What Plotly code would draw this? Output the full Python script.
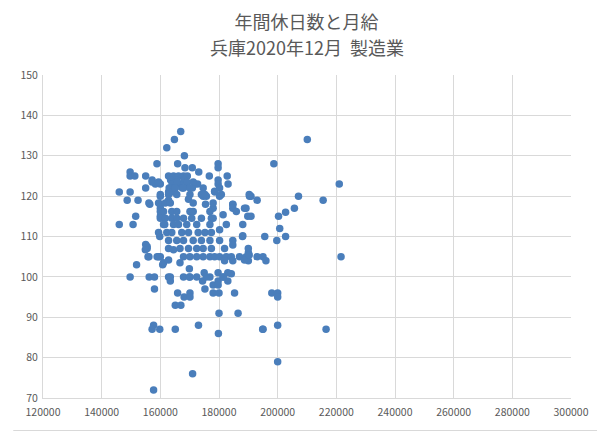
import plotly.graph_objects as go

# 月給 (円) と 年間休日数
monthly_pay = [
    # right side / outliers
    210100, 198700, 221000, 190900, 193000, 207100, 215500, 189200, 205700, 202700,
    189800, 190900, 200300, 200700, 188000, 195600, 202700, 199700, 190000, 190000,
    189300, 190000, 193000, 195000, 196000, 221600, 198000, 200000, 200000, 195000,
    200000, 216500, 200000,
    # left side
    162200, 158850, 149700, 149700, 151300, 155000, 157200, 158300, 160000, 146000,
    149700, 155000, 148700, 152400, 156400, 160000, 160000, 162800, 162800,
    151600, 150700, 146000, 160000, 160000, 161500, 159800, 155000, 155500, 155800,
    158900, 160000, 151900, 160800, 149700, 156200, 158000, 162800, 158000,
    # bottom
    163400, 165900, 167900, 169900, 172400, 169900, 168100, 170100, 170100, 165100,
    167000, 174950, 174400, 175200, 176900, 179700, 179700, 181400, 183000, 183000,
    178000, 179700, 178000, 180000, 185300, 180000, 186500, 157700, 157200, 159800,
    165100, 173000, 179800, 194900, 171000, 157700,
    # top
    166950, 164800, 168200, 165900, 168400, 170900, 173100, 179700, 179700, 176700,
    182800, 179700, 179700, 183100, 171800, 172700, 170900, 174600, 175700, 178600,
    180200, 184700, 188700, 190400, 175400, 178000,
    # dense upper cluster
    162800, 164500, 166200, 167900, 169200, 163500, 165500, 168000, 164000, 166500,
    169000, 163000, 165000, 167500, 164000,
    157200, 159400, 165600, 169000, 171200,
    165100, 167900, 170100, 174600, 180200,
    160000, 162800, 165600, 170100, 174000, 175200, 178500, 180800,
    156100, 159400, 161700, 163400, 169600, 171200, 178000, 184700, 190300,
    160000, 161100, 163900, 165600, 170100, 171200, 176900, 181400, 184700, 185900,
    # middle band
    160000, 161700, 163900, 165600, 167900, 170700, 174000, 177400, 178000,
    161100, 164500, 166200, 169000, 172400, 176900, 182500, 188100,
    159400, 162200, 163900, 167300, 169600, 172900, 175200, 177400, 180200,
    155500, 162800, 165600, 167900, 171200, 174000, 176900, 180200, 184700, 188100,
    154900, 162800, 164500, 166700, 169600, 172400, 174600, 177400, 181900, 184700,
    156100, 159400, 167900, 170100, 172400, 174600, 176900, 178500, 180200, 182500,
    184200, 187000, 188700, 190300,
    161100, 162800, 166700, 181900, 184700,
    163400, 170100, 175700, 181400, 184200,
]

annual_holidays = [
    # right side / outliers
    134, 128, 123, 120, 119, 120, 119, 117, 117, 116,
    115, 115, 115, 112, 110, 110, 110, 109, 107, 106,
    105, 104, 105, 105, 104, 105, 96, 96, 95, 87,
    88, 87, 79,
    # left side
    132, 128, 126, 125, 125, 125, 124, 123, 123, 121,
    121, 122, 119, 119, 118, 120, 118, 121, 119,
    115, 113, 113, 115, 117, 113, 110, 108, 107, 105,
    105, 105, 103, 103, 100, 100, 100, 100, 97,
    # bottom
    99, 96, 100, 100, 100, 102, 95, 96, 95, 93,
    93, 101, 99, 97, 100, 101, 99, 100, 101, 99,
    98, 98, 96, 96, 96, 91, 91, 88, 87, 87,
    87, 88, 86, 87, 76, 72,
    # top
    136, 134, 130, 128, 127, 127, 126, 128, 127, 125,
    125, 124, 123, 123, 123, 123, 122, 120, 120, 121,
    120, 118, 117, 120, 118, 117,
    # dense upper cluster
    125, 125, 125, 125, 125, 124, 124, 124, 123, 123,
    123, 122, 122, 122, 121,
    123.5, 123.5, 123.5, 123.5, 123.5,
    122, 122, 122, 122, 122,
    120.4, 120.4, 120.4, 120.4, 120.4, 120.4, 121.2, 120.4,
    118.3, 118.3, 118.3, 118.3, 119.2, 118.3, 118.3, 117.9, 120.4,
    116.2, 116.2, 116.2, 116.2, 116.2, 116.2, 116.2, 115.4, 117, 116.2,
    # middle band
    114.5, 114.5, 114.5, 114.5, 114.5, 114.5, 114.5, 114.5, 114.5,
    113, 113, 113, 113, 113, 113, 113, 113,
    111, 111, 111, 111, 111, 111, 111, 111, 111.7,
    107.5, 109, 109, 109, 109, 109, 109, 109, 109, 110.2,
    106.7, 107, 106.7, 107, 107, 107, 107, 107, 107, 107.9,
    105, 105, 105, 105, 105, 105, 105, 105, 105, 105,
    105, 105, 104.2, 105.4,
    103.5, 104.2, 103.5, 104, 104,
    100, 100, 100, 100, 100.8,
]

x_ticks = list(range(120000, 300001, 20000))
y_ticks = list(range(70, 151, 10))

title_line1 = "年間休日数と月給"
title_line2 = "兵庫2020年12月  製造業"

fig = go.Figure()
fig.add_trace(go.Scatter(
    x=monthly_pay, y=annual_holidays,
    mode="markers",
    marker=dict(size=7.5, color="#4a7ebb"),
    showlegend=False,
))

grid = "#d9d9d9"
font = "Noto Sans CJK JP, Noto Sans, sans-serif"
text_col = "#595959"

# the page adds an 8px body margin, so the figure is 8px smaller than the window
W, H = 597, 423
ml, mr, mt, mb = 30, 34, 67, 33
pw, ph = W - ml - mr, H - mt - mb

fig.update_layout(
    width=W, height=H,
    margin=dict(l=ml, r=mr, t=mt, b=mb),
    paper_bgcolor="white",
    plot_bgcolor="white",
    font=dict(family=font, color=text_col, size=10),
    title=dict(text=title_line1, x=0.5, xanchor="center",
               y=1 - 15 / H, yanchor="middle",
               font=dict(size=18, color=text_col, family=font)),
    xaxis=dict(range=[120000, 300000], tickvals=x_ticks,
               ticktext=[str(v) for v in x_ticks],
               showgrid=True, gridcolor=grid, gridwidth=1,
               showline=True, linecolor=grid, zeroline=False,
               ticks="", ticklabelstandoff=4,
               tickfont=dict(size=10.5, color=text_col)),
    yaxis=dict(range=[70, 150], tickvals=y_ticks,
               showgrid=True, gridcolor=grid, gridwidth=1,
               showline=True, linecolor=grid, zeroline=False,
               ticks="", ticklabelstandoff=2,
               tickfont=dict(size=10.5, color=text_col)),
)

fig.add_annotation(text=title_line2, xref="paper", yref="paper",
                   x=0.5, xanchor="center", y=1 + (mt - 38.5) / ph, yanchor="middle",
                   showarrow=False, font=dict(size=18, color=text_col, family=font))

# outer chart frame (right and bottom edges; the others fall in the page margin)
fig.add_shape(type="line", xref="paper", yref="paper",
              x0=1 + (mr - 0.5) / pw, x1=1 + (mr - 0.5) / pw,
              y0=-(mb - 0.5) / ph, y1=1 + mt / ph,
              line=dict(color=grid, width=1))
fig.add_shape(type="line", xref="paper", yref="paper",
              x0=-ml / pw, x1=1 + (mr - 0.5) / pw,
              y0=-(mb - 0.5) / ph, y1=-(mb - 0.5) / ph,
              line=dict(color=grid, width=1))

fig.write_html("out.html")
